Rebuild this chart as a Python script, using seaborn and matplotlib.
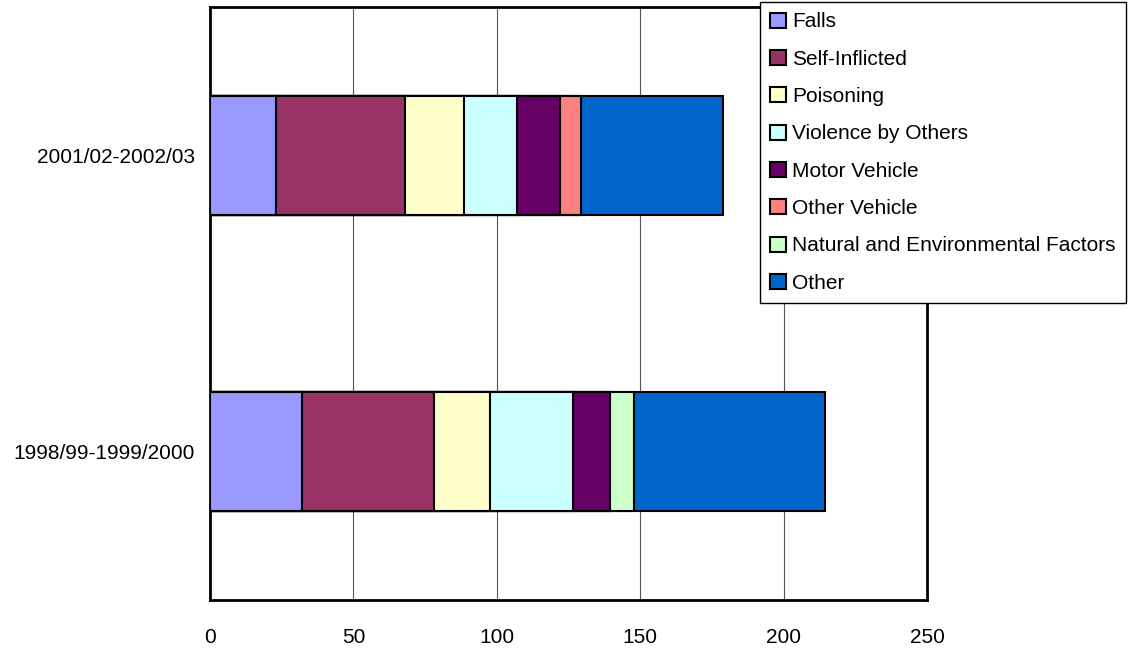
import matplotlib
matplotlib.use("Agg")
import matplotlib.pyplot as plt
import pandas as pd
import seaborn as sns

periods = ["2001/02-2002/03", "1998/99-1999/2000"]
causes = ["Falls", "Self-Inflicted", "Poisoning", "Violence by Others",
          "Motor Vehicle", "Other Vehicle", "Natural and Environmental Factors", "Other"]
colors = ["#9999FF", "#993366", "#FFFFCC", "#CCFFFF",
          "#660066", "#FF8080", "#CCFFCC", "#0066CC"]

falls = [23.0, 32.2]
self_inflicted = [45.1, 46.0]
poisoning = [20.4, 19.6]
violence = [18.7, 28.6]
motor_vehicle = [15.0, 13.1]
other_vehicle = [7.0, 0.0]
natural_env = [0.0, 8.4]
other = [49.6, 66.4]

df = pd.DataFrame({
    "Period": periods,
    "Falls": falls,
    "Self-Inflicted": self_inflicted,
    "Poisoning": poisoning,
    "Violence by Others": violence,
    "Motor Vehicle": motor_vehicle,
    "Other Vehicle": other_vehicle,
    "Natural and Environmental Factors": natural_env,
    "Other": other,
})

# cumulative sums so each bar can be drawn over the next one
cum = df[causes].cumsum(axis=1)
cum["Period"] = df["Period"]

sns.set_style("white")
plt.rcParams["font.family"] = ["Liberation Sans", "DejaVu Sans"]
plt.rcParams["text.color"] = "black"
plt.rcParams["xtick.color"] = "black"
plt.rcParams["ytick.color"] = "black"

fig = plt.figure(figsize=(11.3, 6.5), dpi=100)
ax = fig.add_axes([210 / 1130, 50 / 650, 717 / 1130, 593 / 650])

for cause, col in reversed(list(zip(causes, colors))):
    sns.barplot(data=cum, x=cause, y="Period", order=periods, orient="h",
                color=col, edgecolor="black", linewidth=1.5, width=0.4,
                saturation=1, label=cause, ax=ax, zorder=3)

ax.set_xlim(0, 250)
ax.set_ylim(1.5, -0.5)
ax.set_xticks([0, 50, 100, 150, 200, 250])
ax.set_xlabel("")
ax.set_ylabel("")
ax.grid(axis="x", color="#555555", linewidth=0.8, zorder=0)
ax.set_axisbelow(True)
for s in ax.spines.values():
    s.set_color("black")
    s.set_linewidth(2)
ax.tick_params(axis="x", length=0, pad=20, labelsize=15, labelcolor="black")
ax.tick_params(axis="y", length=0, pad=11, labelsize=15, labelcolor="black")

handles, labels = ax.get_legend_handles_labels()
if ax.legend_:
    ax.legend_.remove()
lookup = dict(zip(labels, handles))
leg = fig.legend([lookup[c] for c in causes], causes,
                 loc="upper left", bbox_to_anchor=(760 / 1130, 1 - 2 / 650),
                 fontsize=15, frameon=True, fancybox=False, framealpha=1,
                 edgecolor="black", handlelength=0.75, handleheight=0.75,
                 handletextpad=0.3, labelspacing=0.88, borderpad=0.5,
                 borderaxespad=0)
leg.get_frame().set_linewidth(1)

fig.savefig("out.png", dpi=100)
